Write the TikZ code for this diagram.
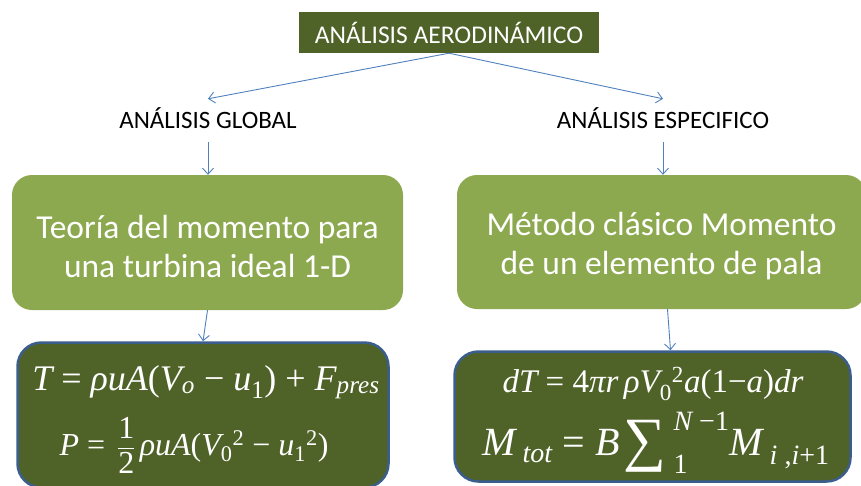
\documentclass[tikz,border=0pt]{standalone}
\usepackage{fontspec}
\usepackage{amsmath}
\usepackage{graphicx}
\setmainfont{Carlito}
\newfontfamily\tms{Liberation Serif}
\usetikzlibrary{arrows.meta}
\definecolor{darkol}{HTML}{4F6228}
\definecolor{lightol}{HTML}{8DA950}
\definecolor{arrblue}{HTML}{4F81BD}
\definecolor{bordblue}{HTML}{3B5E8C}
\newcommand\mi[1]{\text{\tms\itshape #1}}
\newcommand\mr[1]{\text{\tms #1}}
\begin{document}
\begin{tikzpicture}[x=1pt,y=1pt,
 conn/.style={draw=arrblue, line width=0.9pt, -{Straight Barb[length=6pt,width=11pt]}},
 topbox/.style={fill=darkol, minimum width=300pt, minimum height=41pt, text=white, font=\fontsize{25.5}{28}\selectfont, inner sep=0pt},
 lbl/.style={font=\fontsize{25}{28}\selectfont, text height=16pt, text depth=1pt, inner ysep=13pt, inner xsep=0pt, anchor=base},
 greenbox/.style={fill=lightol, rounded corners=20pt, inner sep=0pt},
 greentext/.style={text=white, align=center, font=\fontsize{33.5}{39}\selectfont, inner sep=0pt},
 formbox/.style={fill=darkol, draw=bordblue, line width=2.5pt, rounded corners=24pt, inner sep=0pt},
 formula/.style={text=white, inner sep=0pt, anchor=base}
]
\useasboundingbox (0,0) rectangle (861,-485);
\node[topbox] (top) at (449,-32.5) {ANÁLISIS AERODINÁMICO};
\node[lbl] (glob) at (208,-128) {ANÁLISIS GLOBAL};
\node[lbl] (espe) at (663,-128) {ANÁLISIS ESPECIFICO};
\node[greenbox, minimum width=391pt, minimum height=135pt] (lg) at (207.5,-242.5) {};
\node[greentext] (lgt) at ([yshift=-4pt]lg.center) {Teoría del momento para\\una turbina ideal 1-D};
\node[greenbox, minimum width=409pt, minimum height=134pt] (rg) at (661.5,-242) {};
\node[greentext] (rgt) at ([yshift=-4pt]rg.center) {Método clásico Momento\\de un elemento de pala};
\node[formbox, minimum width=371pt, minimum height=145pt] (lf) at (203,-415) {};
\node[formbox, minimum width=396pt, minimum height=130pt] (rf) at (652.5,-416.5) {};
\node[formula, font=\fontsize{36}{40}\selectfont] (fa) at (206,-390) {$\mi{T}\mr{ = }\mi{ρuA}\mr{(}\mi{V}_{\mi{o}}\mr{ − }\mi{u}_{\mr{1}}\mr{) + }\mi{F}_{\mi{pres}}$};
\node[formula, font=\fontsize{32}{36}\selectfont] (fb) at (194,-455) {$\mi{P}\mr{ = }\,\dfrac{\mr{1}}{\mr{2}}\,\mi{ρuA}\mr{(}\mi{V}_{\mr{0}}{}^{\mr{2}}\mr{ − }\mi{u}_{\mr{1}}{}^{\mr{2}}\mr{)}$};
\node[formula, font=\fontsize{33}{36}\selectfont] (fc) at (653,-392) {$\mi{dT}\mr{ = 4}\mi{π}\mi{r\,ρV}_{\mr{0}}{}^{\mr{2}}\mi{a}\mr{(1−}\mi{a}\mr{)}\mi{dr}$};
\node[formula, font=\fontsize{40}{44}\selectfont] (fd) at (656,-455) {$\mi{M}_{\;\mi{tot}}\mr{ = }\mi{B}\,\raisebox{-0.12em}{\scalebox{1.5}{\tms ∑}}^{\;\mi{N}\mr{ −1}}_{\;\mr{1}}\mi{M}_{\;\mi{i}\mr{ ,}\mi{i}\mr{+1}}$};
\draw[conn] (top.south) -- (glob.north);
\draw[conn] (top.south) -- (espe.north);
\draw[conn] (glob.south) -- (glob.south |- lg.north);
\draw[conn] (espe.south) -- (espe.south |- rg.north);
\draw[conn] (lg.south) -- (lf.north);
\draw[conn] ([xshift=6pt]rg.south) -- ([xshift=18pt]rf.north);
\end{tikzpicture}
\end{document}
